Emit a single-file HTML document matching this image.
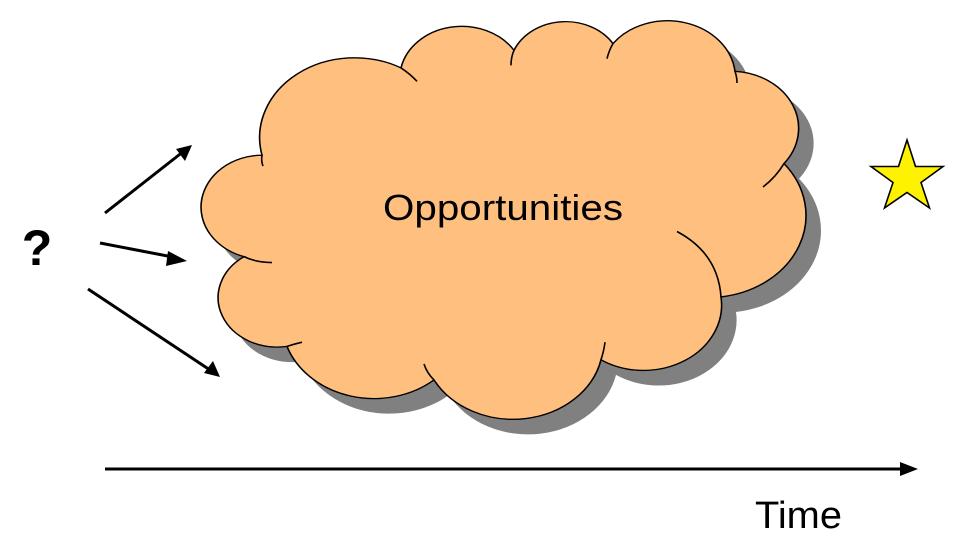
<!DOCTYPE html>
<html><head><meta charset="utf-8"><style>
html,body{margin:0;padding:0;background:#fff;}
svg{display:block;}
</style></head><body>
<svg width="960" height="540" viewBox="0 0 960 540" xmlns="http://www.w3.org/2000/svg">
<defs>
<path id="cloud" d="M262,185 A95,95 0 0 1 401,81 A62,62 0 0 1 514,60 A56,56 0 0 1 613,52 A68,68 0 0 1 735,85 A68,68 0 0 1 784,195 A98,98 0 0 1 721,354 A78,78 0 0 1 601,429 A90,90 0 0 1 434,453 A92,92 0 0 1 287,413 A59,59 0 0 1 244,306 A62,62 0 0 1 262,185 Z"/>
</defs>
<g transform="translate(0,0) scale(1,0.8387)">
<use href="#cloud" transform="translate(15,18)" fill="#808080"/>
<use href="#cloud" fill="#FFBF7F" stroke="#000" stroke-width="1.6" vector-effect="non-scaling-stroke"/>
<g fill="none" stroke="#000" stroke-width="1.6">
<path vector-effect="non-scaling-stroke" d="M262,185 Q261,192 263,198"/>
<path vector-effect="non-scaling-stroke" d="M244,306 Q256,313 272,313"/>
<path vector-effect="non-scaling-stroke" d="M287,413 Q295,410 302,408"/>
<path vector-effect="non-scaling-stroke" d="M434,453 Q427,445 424,434"/>
<path vector-effect="non-scaling-stroke" d="M601,429 Q604,418 605,408"/>
<path vector-effect="non-scaling-stroke" d="M721,354 Q718,302 677,276"/>
<path vector-effect="non-scaling-stroke" d="M784,195 Q776,211 763,223"/>
<path vector-effect="non-scaling-stroke" d="M735,85 Q737,92 737,99"/>
<path vector-effect="non-scaling-stroke" d="M613,52 Q609,60 607,70"/>
<path vector-effect="non-scaling-stroke" d="M514,60 Q511,68 511,78"/>
<path vector-effect="non-scaling-stroke" d="M401,81 Q410,88 417,97"/>
</g>
</g>
<text x="383" y="220" font-family="Liberation Sans, sans-serif" font-size="36" textLength="240" lengthAdjust="spacingAndGlyphs" fill="#000">Opportunities</text>
<g stroke="#000" stroke-width="3" fill="none">
<line x1="105" y1="213" x2="184" y2="151" />
<line x1="100" y1="243" x2="178" y2="258" />
<line x1="88" y1="289" x2="210" y2="370" />
<line x1="105" y1="469" x2="905" y2="469" />
</g>
<g fill="#000">
<polygon points="192,145 176,149 185,161"/>
<polygon points="187,261 168,251 166,266"/>
<polygon points="220,377 204,373 213,361"/>
<polygon points="918,469 900,462 900,476"/>
</g>
<text x="37" y="265" font-family="Liberation Sans, sans-serif" font-size="50" font-weight="bold" text-anchor="middle" fill="#000">?</text>
<polygon points="907,140 915.5,166.5 943,166.5 921,182.5 929.5,208 907,192.5 884.5,208 893,182.5 871,166.5 898.5,166.5" fill="#FFF200" stroke="#000" stroke-width="1.6"/>
<text x="755" y="528" font-family="Liberation Sans, sans-serif" font-size="38" textLength="87" lengthAdjust="spacingAndGlyphs" fill="#000">Time</text>
</svg>
</body></html>
